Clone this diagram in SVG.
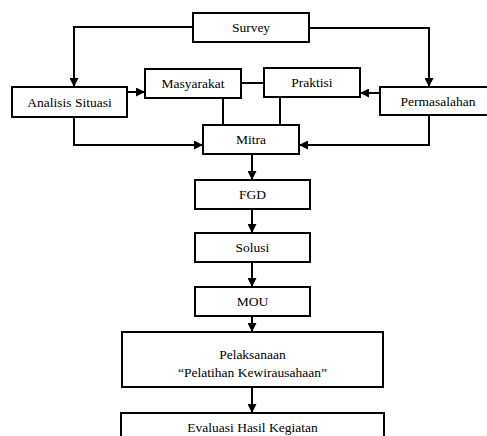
<svg xmlns="http://www.w3.org/2000/svg" width="487" height="436" viewBox="0 0 487 436">
<style>
.box{fill:#fff;stroke:#000;stroke-width:2}
.t{font-family:'Liberation Serif','DejaVu Serif','Times New Roman',serif;font-size:13.5px;fill:#000;text-anchor:middle}
.c{fill:none;stroke:#000;stroke-width:2}
</style>
<defs>
<marker id="ah" viewBox="0 0 10 10" refX="10" refY="5" markerWidth="4.5" markerHeight="4.5" orient="auto" markerUnits="strokeWidth">
<path d="M0,0 L10,5 L0,10 z" fill="#000"/>
</marker>
</defs>
<rect width="487" height="436" fill="#fff"/>
<g id="connectors">
<polyline class="c" points="193,27 74,27 74,87" marker-end="url(#ah)"/>
<polyline class="c" points="309,28 429,28 429,87" marker-end="url(#ah)"/>
<line class="c" x1="127" y1="92" x2="145" y2="92" marker-end="url(#ah)"/>
<line class="c" x1="241" y1="83" x2="264" y2="83"/>
<line class="c" x1="380" y1="93" x2="360" y2="93" marker-end="url(#ah)"/>
<line class="c" x1="223" y1="98" x2="223" y2="125"/>
<line class="c" x1="280" y1="97" x2="280" y2="125"/>
<polyline class="c" points="74,117 74,145 203,145" marker-end="url(#ah)"/>
<polyline class="c" points="429,115 429,145 299,145" marker-end="url(#ah)"/>
<line class="c" x1="252" y1="155" x2="252" y2="180" marker-end="url(#ah)"/>
<line class="c" x1="252" y1="209" x2="252" y2="233" marker-end="url(#ah)"/>
<line class="c" x1="252" y1="262" x2="252" y2="287" marker-end="url(#ah)"/>
<line class="c" x1="252" y1="316" x2="252" y2="332" marker-end="url(#ah)"/>
<line class="c" x1="252" y1="387" x2="252" y2="413" marker-end="url(#ah)"/>
</g>
<g id="survey"><rect class="box" x="193" y="13" width="116" height="29"/><text class="t" font-family="Liberation Serif" x="251" y="32">Survey</text></g>
<g id="analisis"><rect class="box" x="12" y="87" width="115" height="30"/><text class="t" x="69.5" y="106.5">Analisis Situasi</text></g>
<g id="masyarakat"><rect class="box" x="145" y="69" width="96" height="29"/><text class="t" x="193" y="88">Masyarakat</text></g>
<g id="praktisi"><rect class="box" x="264" y="68" width="96" height="29"/><text class="t" x="312" y="87">Praktisi</text></g>
<g id="permasalahan"><rect class="box" x="380" y="87" width="117" height="28"/><text class="t" x="438" y="106">Permasalahan</text></g>
<g id="mitra"><rect class="box" x="203" y="125" width="96" height="29"/><text class="t" x="251" y="144">Mitra</text></g>
<g id="fgd"><rect class="box" x="195" y="180" width="115" height="29"/><text class="t" x="252.5" y="199">FGD</text></g>
<g id="solusi"><rect class="box" x="195" y="233" width="115" height="29"/><text class="t" x="252.5" y="252">Solusi</text></g>
<g id="mou"><rect class="box" x="195" y="287" width="115" height="29"/><text class="t" x="252.5" y="306">MOU</text></g>
<g id="pelaksanaan"><rect class="box" x="122" y="332" width="261" height="55"/><text class="t" x="252.5" y="359">Pelaksanaan</text><text class="t" x="252.5" y="377">“Pelatihan Kewirausahaan”</text></g>
<g id="evaluasi"><rect class="box" x="121" y="413" width="263" height="40"/><text class="t" x="252.5" y="432">Evaluasi Hasil Kegiatan</text></g>
</svg>
